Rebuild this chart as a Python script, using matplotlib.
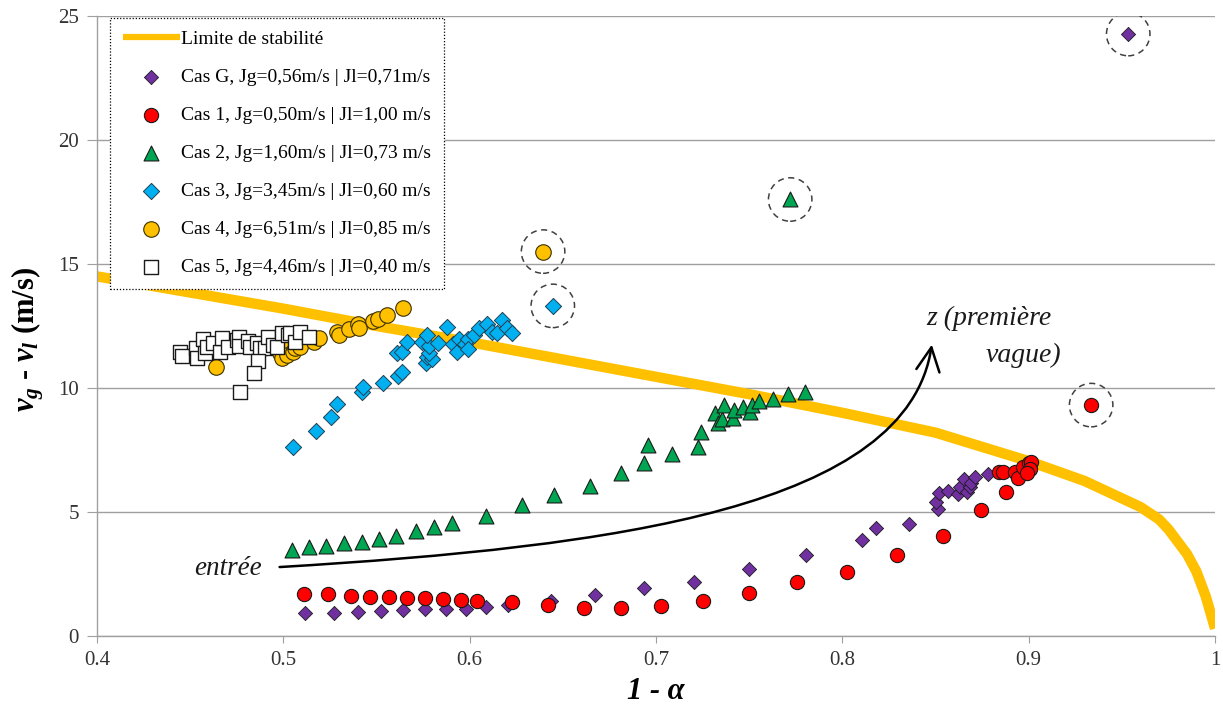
import matplotlib
matplotlib.use("Agg")
import matplotlib.pyplot as plt
from matplotlib.path import Path
from matplotlib.patches import FancyArrowPatch, ArrowStyle

# ---------------- data ----------------
curve_x = [0.40, 0.45, 0.50, 0.55, 0.60, 0.65, 0.70, 0.75, 0.80, 0.85, 0.90,
           0.93, 0.95, 0.96, 0.97, 0.975, 0.98, 0.985, 0.99, 0.995, 1.00]
curve_y = [14.5, 13.85, 13.2, 12.5, 11.85, 11.15, 10.45, 9.75, 9.0, 8.2, 7.05,
           6.25, 5.55, 5.2, 4.7, 4.3, 3.8, 3.3, 2.6, 1.6, 0.3]

casG_x = [0.5116, 0.527, 0.5402, 0.5525, 0.5642, 0.576, 0.5872, 0.5979, 0.6089, 0.6206,
          0.6436, 0.6674, 0.6933, 0.7203, 0.75, 0.7805, 0.8107, 0.8182, 0.8355, 0.8512,
          0.8503, 0.852, 0.8566, 0.862, 0.8632, 0.8655, 0.8668, 0.8686, 0.8690, 0.8713,
          0.8781, 0.9534]
casG_y = [0.92, 0.92, 0.97, 0.99, 1.05, 1.10, 1.09, 1.09, 1.15, 1.26,
          1.42, 1.64, 1.95, 2.19, 2.71, 3.26, 3.88, 4.35, 4.50, 5.11,
          5.42, 5.75, 5.85, 5.71, 6.02, 6.33, 5.82, 6.02, 6.16, 6.42,
          6.52, 24.27]

cas1_x = [0.5110, 0.5241, 0.5362, 0.5463, 0.5567, 0.5664, 0.5760, 0.5856, 0.5952, 0.6041,
          0.6228, 0.6420, 0.6613, 0.6813, 0.7027, 0.7254, 0.7500, 0.7757, 0.8024, 0.8291,
          0.8542, 0.8746, 0.8878, 0.8843, 0.8861, 0.8928, 0.8945, 0.8970, 0.8999, 0.9012,
          0.9008, 0.8990, 0.9335]
cas1_y = [1.68, 1.68, 1.62, 1.57, 1.57, 1.52, 1.52, 1.48, 1.47, 1.41,
          1.37, 1.26, 1.14, 1.14, 1.21, 1.41, 1.72, 2.19, 2.59, 3.27,
          4.03, 5.08, 5.79, 6.63, 6.63, 6.63, 6.36, 6.83, 6.96, 7.03,
          6.72, 6.56, 9.31]

cas2_x = [0.5049, 0.5140, 0.5230, 0.5325, 0.5423, 0.5512, 0.5607, 0.5711, 0.5807, 0.5904,
          0.6089, 0.6282, 0.6453, 0.6646, 0.6813, 0.6938, 0.6957, 0.7087, 0.7226, 0.7239,
          0.7317, 0.7334, 0.7354, 0.7367, 0.7415, 0.7421, 0.7469, 0.7507, 0.7516, 0.7555,
          0.7626, 0.7709, 0.7797, 0.772]
cas2_y = [3.47, 3.58, 3.63, 3.74, 3.78, 3.92, 4.05, 4.25, 4.41, 4.56,
          4.85, 5.28, 5.69, 6.05, 6.56, 6.99, 7.70, 7.34, 7.63, 8.24,
          8.98, 8.58, 8.74, 9.31, 8.78, 9.11, 9.25, 9.05, 9.31, 9.48,
          9.54, 9.74, 9.84, 17.6]

cas3_x = [0.5054, 0.5176, 0.5254, 0.5287, 0.5422, 0.5426, 0.5534, 0.5614, 0.5636, 0.5609,
          0.5639, 0.5662, 0.5743, 0.5766, 0.5773, 0.5796, 0.5784, 0.5784, 0.5773, 0.5829,
          0.5877, 0.5909, 0.5931, 0.5945, 0.5975, 0.5993, 0.5990, 0.6024, 0.6052, 0.6092,
          0.6119, 0.6145, 0.6172, 0.6199, 0.6229, 0.6446]
cas3_y = [7.63, 8.28, 8.82, 9.35, 9.84, 10.05, 10.21, 10.48, 10.66, 11.40,
          11.46, 11.87, 11.87, 11.00, 11.24, 11.17, 11.40, 11.69, 12.14, 11.83,
          12.45, 11.76, 11.44, 11.96, 11.76, 11.96, 11.56, 12.14, 12.43, 12.58,
          12.27, 12.20, 12.74, 12.41, 12.20, 13.31]

cas4_x = [0.4637, 0.4982, 0.4991, 0.5009, 0.5021, 0.5054, 0.5063, 0.5090, 0.5166, 0.5193,
          0.5287, 0.5301, 0.5354, 0.5403, 0.5408, 0.5480, 0.5510, 0.5555, 0.5644, 0.6394]
cas4_y = [10.83, 11.40, 11.20, 11.60, 11.33, 11.46, 11.60, 11.67, 11.87, 12.00,
          12.27, 12.14, 12.37, 12.57, 12.43, 12.71, 12.77, 12.94, 13.21, 15.50]

cas5_x = [0.4446, 0.4455, 0.4531, 0.4538, 0.4571, 0.4580, 0.4589, 0.4624, 0.4660, 0.4669,
          0.4705, 0.4750, 0.4762, 0.4764, 0.4812, 0.4821, 0.4857, 0.4875, 0.4902, 0.4920,
          0.4946, 0.4965, 0.4991, 0.5027, 0.5036, 0.5063, 0.5090, 0.5138, 0.4863, 0.4845,
          0.4768]
cas5_y = [11.46, 11.29, 11.60, 11.20, 11.96, 11.40, 11.67, 11.80, 11.46, 12.00,
          11.67, 11.94, 12.07, 11.69, 11.91, 11.67, 11.80, 11.60, 11.60, 12.07,
          11.73, 11.67, 12.20, 12.14, 12.23, 11.87, 12.27, 12.07, 11.10, 10.60,
          9.85]

labels = ["Limite de stabilité",
          "Cas G, Jg=0,56m/s | Jl=0,71m/s",
          "Cas 1, Jg=0,50m/s | Jl=1,00 m/s",
          "Cas 2, Jg=1,60m/s | Jl=0,73 m/s",
          "Cas 3, Jg=3,45m/s | Jl=0,60 m/s",
          "Cas 4, Jg=6,51m/s | Jl=0,85 m/s",
          "Cas 5, Jg=4,46m/s | Jl=0,40 m/s"]

x_ticks = [0.4, 0.5, 0.6, 0.7, 0.8, 0.9, 1.0]
x_ticklabels = ["0.4", "0.5", "0.6", "0.7", "0.8", "0.9", "1"]
y_ticks = [0, 5, 10, 15, 20, 25]

# arrow "entrée -> z (première vague)" (bezier control points, data coords)
arrow_pts = [(0.498, 2.78), (0.68, 3.6), (0.835, 5.2), (0.848, 11.75)]

# ---------------- style ----------------
SERIF = ["Liberation Serif", "DejaVu Serif"]
plt.rcParams["font.family"] = SERIF
plt.rcParams["mathtext.fontset"] = "custom"
plt.rcParams["mathtext.it"] = "Liberation Serif:italic:bold"
plt.rcParams["mathtext.rm"] = "Liberation Serif:bold"
plt.rcParams["mathtext.bf"] = "Liberation Serif:bold"

fig = plt.figure(figsize=(12.23, 7.13), dpi=100)
ax = fig.add_axes([0.0793, 0.108, 0.9142, 0.8696])

gray = "#a0a0a0"
ax.set_xlim(0.4, 1.0)
ax.set_ylim(0, 25)
ax.set_yticks(y_ticks)
ax.set_xticks(x_ticks)
ax.set_xticklabels(x_ticklabels)
ax.yaxis.grid(True, color=gray, linewidth=1.0, zorder=0)
ax.set_axisbelow(True)
for s in ["top", "right"]:
    ax.spines[s].set_visible(False)
for s in ["left", "bottom"]:
    ax.spines[s].set_color(gray)
    ax.spines[s].set_linewidth(1.0)
ax.tick_params(axis="y", direction="out", length=7, color=gray, labelsize=15,
               labelcolor="#333333", pad=6)
ax.tick_params(axis="x", direction="out", length=5, color=gray, labelsize=15,
               labelcolor="#333333", pad=6)

# stability limit
line, = ax.plot(curve_x, curve_y, color="#ffc000", linewidth=7.5,
                solid_capstyle="butt", solid_joinstyle="round", zorder=2,
                label=labels[0])

ec = "#1a1a1a"
ax.scatter(casG_x, casG_y, marker="D", s=52, facecolor="#7030a0", edgecolor=ec,
           linewidth=0.6, zorder=3, label=labels[1])
ax.scatter(cas1_x, cas1_y, marker="o", s=105, facecolor="#ff0000", edgecolor=ec,
           linewidth=0.8, zorder=3, label=labels[2])
ax.scatter(cas2_x, cas2_y, marker="^", s=115, facecolor="#00a651", edgecolor=ec,
           linewidth=0.8, zorder=3, label=labels[3])
ax.scatter(cas3_x, cas3_y, marker="D", s=68, facecolor="#00b0f0", edgecolor="#1f3f55",
           linewidth=0.7, zorder=3, label=labels[4])
ax.scatter(cas4_x, cas4_y, marker="o", s=125, facecolor="#ffc000", edgecolor="#3a3000",
           linewidth=0.8, zorder=3, label=labels[5])
ax.scatter(cas5_x, cas5_y, marker="s", s=115, facecolor="white", edgecolor="#1a1a1a",
           linewidth=1.0, zorder=3, label=labels[6])

# dashed circles around the isolated points (last point of each series)
out_x = [casG_x[-1], cas1_x[-1], cas2_x[-1], cas3_x[-1], cas4_x[-1]]
out_y = [casG_y[-1], cas1_y[-1], cas2_y[-1], cas3_y[-1], cas4_y[-1]]
ax.scatter(out_x, out_y, marker="o", s=980, facecolor="none", edgecolor="#404040",
           linewidth=1.1, linestyle=(0, (4, 3)), zorder=4)

# curved arrow
verts = arrow_pts
codes = [Path.MOVETO, Path.CURVE4, Path.CURVE4, Path.CURVE4]
arr = FancyArrowPatch(path=Path(verts, codes),
                      arrowstyle=ArrowStyle("->", head_length=0.85, head_width=0.42),
                      mutation_scale=20, linewidth=1.8, color="black",
                      transform=ax.transData, zorder=5)
ax.add_patch(arr)

ax.text(0.4703, 2.74, "entrée", fontsize=19.5, style="italic", color="#1a1a1a",
        ha="center", va="center")
ax.text(0.845, 12.8, "z (première", fontsize=20, style="italic", color="#1a1a1a",
        ha="left", va="center")
ax.text(0.8767, 11.33, "vague)", fontsize=20, style="italic", color="#1a1a1a",
        ha="left", va="center")

ax.set_xlabel("1 - α", fontsize=22, fontweight="bold", style="italic", labelpad=5)
ax.set_ylabel(r"$v_g$ - $v_l$ (m/s)", fontsize=22, fontweight="bold")
ax.yaxis.set_label_coords(-0.046, 0.478)

leg = ax.legend(loc="upper left", bbox_to_anchor=(0.0116, 0.997), borderaxespad=0,
                fontsize=14, frameon=True, fancybox=False, handlelength=2.95,
                handletextpad=0.05, labelspacing=1.05, borderpad=0.66,
                scatterpoints=1)
leg.set_zorder(10)
fr = leg.get_frame()
fr.set_edgecolor("black")
fr.set_linestyle((0, (1, 1.5)))
fr.set_linewidth(0.9)
fr.set_facecolor("white")
fr.set_alpha(1)
leg.get_lines()[0].set_linewidth(4.5)

fig.savefig("out.png", dpi=100)
